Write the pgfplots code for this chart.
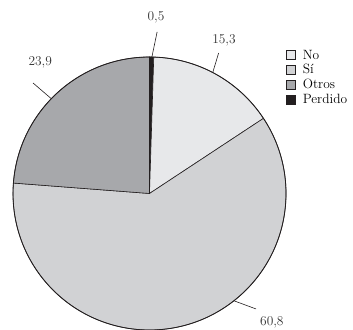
\documentclass[border=0pt]{standalone}
\usepackage{pgfplots}
\usepackage{pgfplotstable}
\pgfplotsset{compat=1.18}

\definecolor{cNo}{HTML}{E7E8EA}
\definecolor{cSi}{HTML}{D1D2D4}
\definecolor{cOtros}{HTML}{A7A8AB}
\definecolor{cPerdido}{HTML}{231F20}
\definecolor{edge}{HTML}{231F20}

% Shares per answer (percent)
\pgfplotstableread{
name    value
No      15.3
Si      60.8
Otros   23.9
Perdido 0.5
}\pietab

\begin{document}
\begin{tikzpicture}[font=\fontsize{13.5}{16}\selectfont]
\pgfplotstablegetelem{0}{value}\of\pietab \let\vNo\pgfplotsretval
\pgfplotstablegetelem{1}{value}\of\pietab \let\vSi\pgfplotsretval
\pgfplotstablegetelem{2}{value}\of\pietab \let\vOtros\pgfplotsretval
\pgfplotstablegetelem{3}{value}\of\pietab \let\vPerdido\pgfplotsretval
\pgfmathsetmacro\tot{\vNo+\vSi+\vOtros+\vPerdido}
\pgfmathsetmacro\k{360/\tot}
% slices run clockwise from the top: Perdido, No, Si, Otros
\pgfmathsetmacro\aP{90}
\pgfmathsetmacro\bP{\aP-\k*\vPerdido}
\pgfmathsetmacro\bN{\bP-\k*\vNo}
\pgfmathsetmacro\bS{\bN-\k*\vSi}
\pgfmathsetmacro\bO{\bS-\k*\vOtros}
\def\R{136.5bp}
\useasboundingbox (0,0) rectangle (353bp,330bp);
\begin{axis}[
  at={(0,0)}, anchor=south west,
  scale only axis, width=353bp, height=330bp,
  xmin=-1.0952, xmax=1.4908, ymin=-1, ymax=1.4176,
  hide axis, clip=false,
  legend style={draw=none, fill=none, inner sep=0pt, outer sep=0pt,
    at={(rel axis cs:0.811,0.855)}, anchor=north west,
    cells={anchor=west, inner ysep=1bp}, row sep=0pt,
    font=\fontsize{13.5}{16}\selectfont},
  legend image code/.code={\draw[#1, draw=edge, line width=0.6bp] (0bp,-4.5bp) rectangle (9bp,4.5bp);\path (14bp,0);},
  /pgf/number format/.cd, use comma, fixed, fixed zerofill, precision=1, assume math mode=true,
]
\addlegendimage{fill=cNo}\addlegendentry{No}
\addlegendimage{fill=cSi}\addlegendentry{Sí}
\addlegendimage{fill=cOtros}\addlegendentry{Otros}
\addlegendimage{fill=cPerdido}\addlegendentry{Perdido}

\filldraw[fill=cPerdido, draw=edge, line width=0.6bp] (0,0) -- ({cos(\aP)},{sin(\aP)}) arc[start angle=\aP, end angle=\bP, radius=\R] -- cycle;
\filldraw[fill=cNo, draw=edge, line width=0.6bp] (0,0) -- ({cos(\bP)},{sin(\bP)}) arc[start angle=\bP, end angle=\bN, radius=\R] -- cycle;
\filldraw[fill=cSi, draw=edge, line width=0.6bp] (0,0) -- ({cos(\bN)},{sin(\bN)}) arc[start angle=\bN, end angle=\bS, radius=\R] -- cycle;
\filldraw[fill=cOtros, draw=edge, line width=0.6bp] (0,0) -- ({cos(\bS)},{sin(\bS)}) arc[start angle=\bS, end angle=\bO, radius=\R] -- cycle;
\draw[edge, line width=0.8bp] (0,0) circle[radius=\R];

% value labels with leader lines
\draw[edge, line width=0.6bp] ({cos(89)},{sin(89)}) -- ({1.185*cos(87.3)},{1.185*sin(87.3)});
\node[text=black!80] at ({1.293*cos(87.9)},{1.293*sin(87.9)}) {\pgfmathprintnumber{\vPerdido}};
\draw[edge, line width=0.6bp] ({cos(62.4)},{sin(62.4)}) -- ({1.147*cos(63.8)},{1.147*sin(63.8)});
\node[text=black!80] at ({1.25*cos(64.1)},{1.25*sin(64.1)}) {\pgfmathprintnumber{\vNo}};
\draw[edge, line width=0.6bp] ({cos(136)},{sin(136)}) -- ({1.176*cos(136.5)},{1.176*sin(136.5)});
\node[text=black!80] at ({1.25*cos(129.8)},{1.25*sin(129.8)}) {\pgfmathprintnumber{\vOtros}};
\draw[edge, line width=0.6bp] ({cos(-51.8)},{sin(-51.8)}) -- ({1.151*cos(-47.3)},{1.151*sin(-47.3)});
\node[text=black!80] at ({1.30*cos(-46.4)},{1.30*sin(-46.4)}) {\pgfmathprintnumber{\vSi}};
\end{axis}
\end{tikzpicture}
\end{document}
